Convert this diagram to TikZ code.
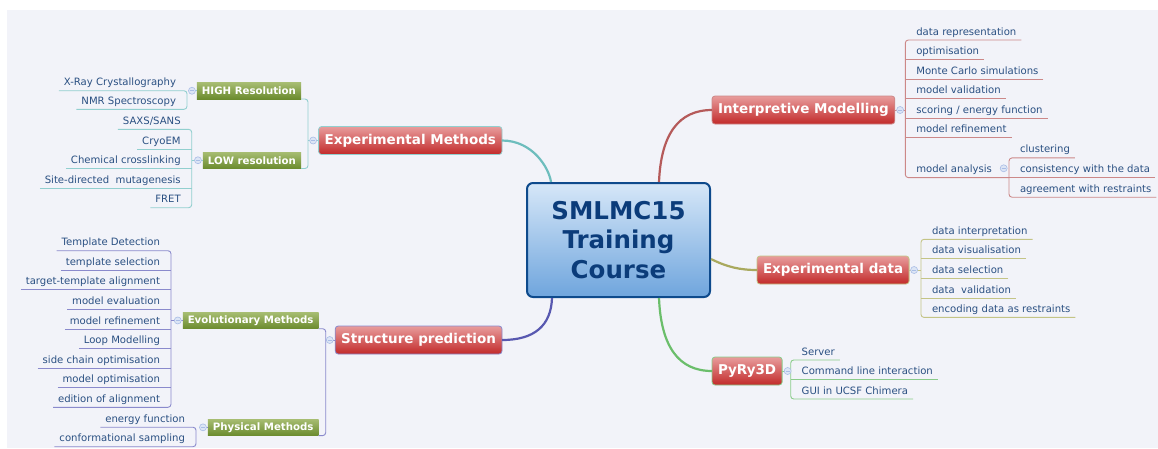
\documentclass[tikz,border=0pt]{standalone}
\usepackage{fontspec}
\setmainfont{DejaVu Sans}
\usetikzlibrary{calc,backgrounds}
\definecolor{bg}{HTML}{F2F3F9}
\definecolor{leaftext}{HTML}{2A5082}
\definecolor{navy}{HTML}{0B3C7A}
\definecolor{navyb}{HTML}{0E4A8C}
\definecolor{ctop}{HTML}{D6E7F8}
\definecolor{cbot}{HTML}{6FA5DD}
\definecolor{rtop}{HTML}{E89C9C}
\definecolor{rbot}{HTML}{C22A2A}
\definecolor{gtop}{HTML}{A7BD72}
\definecolor{gbot}{HTML}{6B8B2E}
\definecolor{mkfill}{HTML}{DCE5F5}
\definecolor{mkdraw}{HTML}{A9BDE6}
\definecolor{emc}{HTML}{6DBDBD}
\definecolor{eml}{HTML}{92CFCF}
\definecolor{spc}{HTML}{5858B0}
\definecolor{spl}{HTML}{8A8ACC}
\definecolor{imc}{HTML}{B55A5A}
\definecolor{iml}{HTML}{CC8888}
\definecolor{edc}{HTML}{A9A95E}
\definecolor{edl}{HTML}{C4C486}
\definecolor{pyc}{HTML}{6BBE6B}
\definecolor{pyl}{HTML}{8ACC8A}
\tikzset{
  leaf/.style={font=\fontsize{10.1}{12}\selectfont, text=leaftext, inner xsep=5pt, inner ysep=5pt, text height=7.6pt, text depth=0pt, outer sep=0pt},
  mainbox/.style={rounded corners=3pt, top color=rtop, bottom color=rbot, draw=#1, line width=0.8pt, text=white, font=\fontsize{13.5}{16}\selectfont\bfseries, minimum height=28pt, inner xsep=6pt, inner ysep=0pt, outer sep=0pt},
  subbox/.style={top color=gtop, bottom color=gbot, text=white, font=\fontsize{10.2}{12}\selectfont\bfseries, minimum height=16.5pt, inner xsep=5pt, inner ysep=0pt, outer sep=0pt},
  mk/.style={circle, minimum size=7pt, inner sep=0pt, fill=mkfill, draw=mkdraw, line width=0.6pt, path picture={\draw[mkdraw, line width=0.7pt] ([xshift=-2pt]path picture bounding box.center) -- ([xshift=2pt]path picture bounding box.center);}},
  br/.style={draw=#1, line width=0.9pt, rounded corners=3pt},
  mainline/.style={draw=#1, line width=2.2pt},
}
\begin{document}
\begin{tikzpicture}[x=1pt,y=-1pt]
\useasboundingbox (0,0) rectangle (1158,448);
\fill[white] (0,0) rectangle (1158,448);
\fill[bg] (7,10) rectangle (1158,448);

% central
\node[draw=navyb, line width=2pt, rounded corners=6pt, top color=ctop, bottom color=cbot, minimum width=183pt, minimum height=114pt, align=center, font=\fontsize{24.5}{29.2}\selectfont\bfseries, text=navy, inner sep=0pt] (C) at (618.5,240) {SMLMC15\\Training\\Course};

% main topics
\node[mainbox=eml, anchor=east] (EM) at (502,140.5) {Experimental Methods};
\node[mainbox=spl, anchor=east] (SP) at (502,340) {Structure prediction};
\node[mainbox=iml, anchor=west] (IM) at (712,110) {Interpretive Modelling};
\node[mainbox=edl, anchor=west] (ED) at (757,270) {Experimental data};
\node[mainbox=pyl, anchor=west] (PY) at (712,371) {PyRy3D};

% sub boxes
\node[subbox, anchor=south east] (HI) at (301,99) {HIGH Resolution};
\node[subbox, anchor=south east] (LO) at (301,168.5) {LOW resolution};
\node[subbox, anchor=south east] (EV) at (318.5,328.7) {Evolutionary Methods};
\node[subbox, anchor=south east] (PH) at (318.5,435.6) {Physical Methods};

% vertical line positions
\coordinate (vEM) at (308,0);
\coordinate (vHI) at (187,0);
\coordinate (vLO) at (191.7,0);
\coordinate (vSP) at (325.7,0);
\coordinate (vEV) at (171,0);
\coordinate (vPH) at (196,0);
\coordinate (vIM) at (905.3,0);
\coordinate (vMA) at (1009,0);
\coordinate (vED) at (921,0);
\coordinate (vPY) at (790.7,0);

% HIGH leaves
\node[leaf, anchor=south east] (xray) at (181,90.75) {X-Ray Crystallography};
\node[leaf, anchor=south east] (nmr) at (181,109.3) {NMR Spectroscopy};
% LOW leaves
\node[leaf, anchor=south east] (saxs) at (185.7,129.3) {SAXS/SANS};
\node[leaf, anchor=south east] (cryo) at (185.7,149.0) {CryoEM};
\node[leaf, anchor=south east] (chem) at (185.7,168.5) {Chemical crosslinking};
\node[leaf, anchor=south east] (site) at (185.7,188.2) {Site-directed\ \ mutagenesis};
\node[leaf, anchor=south east] (fret) at (185.7,207.7) {FRET};
% Evolutionary leaves
\node[leaf, anchor=south east] (e1) at (165,250.7) {Template Detection};
\node[leaf, anchor=south east] (e2) at (165,270.3) {template selection};
\node[leaf, anchor=south east] (e3) at (165,289.9) {target-template alignment};
\node[leaf, anchor=south east] (e4) at (165,309.4) {model evaluation};
\node[leaf, anchor=south east] (e5) at (165,329.0) {model refinement};
\node[leaf, anchor=south east] (e6) at (165,348.6) {Loop Modelling};
\node[leaf, anchor=south east] (e7) at (165,368.2) {side chain optimisation};
\node[leaf, anchor=south east] (e8) at (165,387.8) {model optimisation};
\node[leaf, anchor=south east] (e9) at (165,407.3) {edition of alignment};
% Physical leaves
\node[leaf, anchor=south east] (p1) at (190,427.25) {energy function};
\node[leaf, anchor=south east] (p2) at (190,446.7) {conformational sampling};
% Interpretive leaves
\node[leaf, anchor=south west] (i1) at (911.3,40) {data representation};
\node[leaf, anchor=south west] (i2) at (911.3,59.6) {optimisation};
\node[leaf, anchor=south west] (i3) at (911.3,79.2) {Monte Carlo simulations};
\node[leaf, anchor=south west] (i4) at (911.3,98.8) {model validation};
\node[leaf, anchor=south west] (i5) at (911.3,118.3) {scoring / energy function};
\node[leaf, anchor=south west] (i6) at (911.3,137.8) {model refinement};
\node[leaf, anchor=south west] (ma) at (911.3,177.6) {model analysis};
\node[leaf, anchor=south west] (a1) at (1015,157.9) {clustering};
\node[leaf, anchor=south west] (a2) at (1015,177.6) {consistency with the data};
\node[leaf, anchor=south west] (a3) at (1015,197.2) {agreement with restraints};
% Experimental data leaves
\node[leaf, anchor=south west] (x1) at (927,239.3) {data interpretation};
\node[leaf, anchor=south west] (x2) at (927,258.9) {data visualisation};
\node[leaf, anchor=south west] (x3) at (927,278.4) {data selection};
\node[leaf, anchor=south west] (x4) at (927,298.0) {data\ \ validation};
\node[leaf, anchor=south west] (x5) at (927,317.4) {encoding data as restraints};
% PyRy3D leaves
\node[leaf, anchor=south west] (y1) at (796.7,360) {Server};
\node[leaf, anchor=south west] (y2) at (796.7,379.5) {Command line interaction};
\node[leaf, anchor=south west] (y3) at (796.7,399) {GUI in UCSF Chimera};

% main connectors
\draw[mainline=emc] (EM.east) .. controls (532.7,140.5) and (549,168) .. ([xshift=25pt]C.north west);
\draw[mainline=spc] (SP.east) .. controls (534,340) and (551,326) .. ([xshift=26pt]C.south west);
\draw[mainline=imc] (IM.west) .. controls (678.7,110) and (661,134) .. ([xshift=-52pt]C.north east);
\draw[mainline=edc] ([yshift=-19pt]C.east) .. controls (727,267) and (740,270) .. (ED.west);
\draw[mainline=pyc] ([xshift=-52pt]C.south east) .. controls (661,346.7) and (678.7,371) .. (PY.west);

% EM tree
\draw[br=eml] (HI.south east) -- (vEM |- HI.south east) -- (vEM |- LO.south east) -- (LO.south east);
\draw[br=eml] (EM.west) -- (vEM |- EM.west);
\draw[br=eml] (xray.south west) -- (vHI |- xray.south) -- (vHI |- nmr.south) -- (nmr.south west);
\draw[br=eml] (HI.west) -- ([xshift=-5pt]HI.west);
\draw[br=eml] (saxs.south west) -- (vLO |- saxs.south) -- (vLO |- fret.south) -- (fret.south west);
\foreach \n in {cryo,chem,site} \draw[br=eml] (\n.south west) -- (vLO |- \n.south);
\draw[br=eml] (LO.west) -- (vLO |- LO.west);

% SP tree
\draw[br=spl] (EV.south east) -- (vSP |- EV.south east) -- (vSP |- PH.south east) -- (PH.south east);
\draw[br=spl] (SP.west) -- (vSP |- SP.west);
\draw[br=spl] (e1.south west) -- (vEV |- e1.south) -- (vEV |- e9.south) -- (e9.south west);
\foreach \n in {e2,e3,e4,e5,e6,e7,e8} \draw[br=spl] (\n.south west) -- (vEV |- \n.south);
\draw[br=spl] (EV.west) -- (vEV |- EV.west);
\draw[br=spl] (p1.south west) -- (vPH |- p1.south) -- (vPH |- p2.south) -- (p2.south west);
\draw[br=spl] (PH.west) -- ([xshift=-5pt]PH.west);

% IM tree
\draw[br=iml] (i1.south east) -- (vIM |- i1.south) -- (vIM |- ma.south) -- (vMA |- ma.south);
\foreach \n in {i2,i3,i4,i5,i6} \draw[br=iml] (\n.south east) -- (vIM |- \n.south);
\draw[br=iml] (ma.south west) -- (ma.south east);
\draw[br=iml] (IM.east) -- (vIM |- IM.east);
\draw[br=iml] (a1.south east) -- (vMA |- a1.south) -- (vMA |- a3.south) -- (a3.south east);
\draw[br=iml] (a2.south east) -- (vMA |- a2.south);

% ED tree
\draw[br=edl] (x1.south east) -- (vED |- x1.south) -- (vED |- x5.south) -- (x5.south east);
\foreach \n in {x2,x3,x4} \draw[br=edl] (\n.south east) -- (vED |- \n.south);
\draw[br=edl] (ED.east) -- (vED |- ED.east);

% PY tree
\draw[br=pyl] (y1.south east) -- (vPY |- y1.south) -- (vPY |- y3.south) -- (y3.south east);
\draw[br=pyl] (y2.south east) -- (vPY |- y2.south);
\draw[br=pyl] (PY.east) -- (vPY |- PY.east);

% collapse markers
\node[mk] (mEM) at ([xshift=-5.5pt]EM.west) {};
\node[mk] (mSP) at ([xshift=-5.5pt]SP.west) {};
\node[mk] (mHI) at ([xshift=-5pt]HI.west) {};
\node[mk] (mLO) at ([xshift=-5pt]LO.west) {};
\node[mk] (mEV) at ([xshift=-5pt]EV.west) {};
\node[mk] (mPH) at ([xshift=-5pt]PH.west) {};
\node[mk] (mIM) at ([xshift=5.3pt]IM.east) {};
\node[mk] (mED) at ([xshift=5pt]ED.east) {};
\node[mk] (mPY) at ([xshift=5.5pt]PY.east) {};
\node[mk] (mMA) at (1003.7,168.3) {};
\end{tikzpicture}
\end{document}
